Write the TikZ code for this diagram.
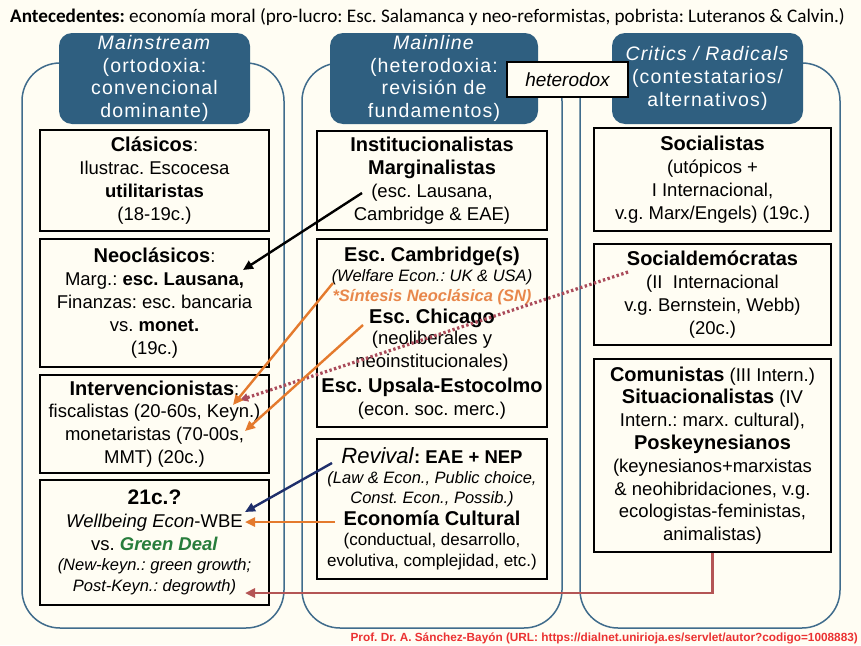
\documentclass[tikz,border=0pt]{standalone}
\usepackage{fontspec}
\setmainfont{Liberation Sans}
\newfontfamily\topfont{Carlito}
\newfontfamily\hdfont{Liberation Sans}[LetterSpace=6]
\usetikzlibrary{arrows.meta}
\frenchspacing

\definecolor{cream}{RGB}{255,253,243}
\definecolor{hdrblue}{RGB}{47,95,128}
\definecolor{colline}{RGB}{64,108,140}
\definecolor{orng}{RGB}{228,122,45}
\definecolor{navy}{RGB}{31,47,107}
\definecolor{elbow}{RGB}{180,85,85}
\definecolor{dotred}{RGB}{170,75,90}
\definecolor{deal}{RGB}{40,125,60}
\definecolor{synth}{RGB}{232,135,75}
\definecolor{urlred}{RGB}{235,50,50}

\newcommand\headfnt{\fontsize{20}{22.8}\selectfont}
\newcommand\smfnt{\fontsize{16.5}{19}\selectfont}

\begin{document}
\begin{tikzpicture}[x=1pt,y=-1pt,
	colframe/.style={draw=colline,line width=1.5pt,rounded corners=38pt},
	header/.style={fill=hdrblue,rounded corners=13pt,text=white,align=center,inner sep=0pt,
		minimum width=#1,minimum height=91pt,font=\hdfont\fontsize{19.5}{22.7}\selectfont},
	school/.style={draw,line width=1.3pt,fill=cream,align=center,inner sep=0pt,
		font=\fontsize{18.5}{22.8}\selectfont},
	link/.style={line width=2.4pt,-{Triangle[length=10pt,width=9pt]}}]

	\fill[cream] (0,0) rectangle (861,645);
	\useasboundingbox (0,0) rectangle (861,645);

	\node[anchor=base west,inner sep=0pt,font=\topfont\fontsize{19.2}{22}\selectfont] (ante) at (10,22)
		{\textbf{Antecedentes:} economía moral (pro-lucro: Esc. Salamanca y neo-reformistas, pobrista: Luteranos \& Calvin.)};

	\draw[colframe] (22,63) rectangle (284,628);
	\draw[colframe] (302,63) rectangle (562,628);
	\draw[colframe] (580,63) rectangle (840,628);

	\node[header=191pt] (mstream) at (154.5,78.5) {\textit{Mainstream}\\ (ortodoxia:\\ convencional\\ dominante)};
	\node[header=208pt] (mline) at (434,78.5) {\textit{Mainline}\\ (heterodoxia:\\ revisión de\\ fundamentos)};
	\node[header=191pt] (critic) at (707.5,78.5) {\textit{Critics / Radicals}\\ (contestatarios/\\ alternativos)};
	\node[draw,line width=1.3pt,fill=cream,minimum width=121pt,minimum height=35pt,inner sep=0pt,
		font=\itshape\fontsize{19}{22}\selectfont] (hetero) at (567.5,79.5) {heterodox};

	\node[school,minimum width=229pt,minimum height=101pt] (clas) at (154.5,180.5)
		{{\headfnt\textbf{Clásicos}}:\\ Ilustrac. Escocesa\\ \textbf{utilitaristas}\\ (18-19c.)};
	\node[school,minimum width=229pt,minimum height=128pt] (neo) at (154.5,303)
		{{\headfnt\textbf{Neoclásicos}}:\\ Marg.: \textbf{esc. Lausana,}\\ Finanzas: esc. bancaria\\ vs. \textbf{monet.}\\ (19c.)};
	\node[school,minimum width=229pt,minimum height=98pt] (inter) at (154.5,424)
		{{\headfnt\textbf{Intervencionistas}}:\\ fiscalistas (20-60s, Keyn.)\\ monetaristas (70-00s,\\ MMT) (20c.)};
	\node[school,minimum width=229pt,minimum height=125pt] (xxi) at (154.5,542.5)
		{{\fontsize{21}{22.8}\selectfont\textbf{21c.?}}\\ \textit{Wellbeing} \textit{Econ}-WBE\\
		vs. \textcolor{deal}{\textbf{\textit{Green Deal}}}\\[-2pt]
		{\smfnt\textit{(New-keyn.: green growth;}}\\[-2pt] {\smfnt\textit{Post-Keyn.: degrowth)}}};

	\node[school,minimum width=230pt,minimum height=99pt] (inst) at (432,180.5)
		{{\headfnt\textbf{Institucionalistas}}\\ {\headfnt\textbf{Marginalistas}}\\ (esc. Lausana,\\ Cambridge \& EAE)};
	\node[school,minimum width=230pt,minimum height=188pt] (camb) at (432,333)
		{{\headfnt\textbf{Esc. Cambridge(s)}}\\[-2pt] {\smfnt\textit{(Welfare Econ.: UK \& USA)}}\\[-3pt]
		{\smfnt\color{synth}\textbf{\textit{*Síntesis Neoclásica (SN)}}}\\[-1pt] {\headfnt\textbf{Esc. Chicago}}\\[-2pt]
		(neoliberales y\\ neoinstitucionales)\\[3pt] {\headfnt\textbf{Esc. Upsala-Estocolmo}}\\ (econ. soc. merc.)};
	\node[school,minimum width=230pt,minimum height=140pt] (rev) at (432,509)
		{{\fontsize{22}{22}\selectfont\textit{Revival}}\textbf{: EAE + NEP}\\[-3pt]
		{\smfnt\textit{(Law \& Econ., Public choice,}}\\[-3pt] {\smfnt\textit{Const. Econ., Possib.)}}\\[-1pt]
		{\headfnt\textbf{Economía Cultural}}\\[-2pt] {\fontsize{17}{20}\selectfont(conductual, desarrollo,}\\[-2pt]
		{\fontsize{17}{20}\selectfont evolutiva, complejidad, etc.)}};

	\node[school,minimum width=237pt,minimum height=103pt] (soc) at (712.5,179.5)
		{{\headfnt\textbf{Socialistas}}\\ (utópicos +\\ I Internacional,\\ v.g. Marx/Engels) (19c.)};
	\node[school,minimum width=237pt,minimum height=101pt] (sdem) at (712.5,294.5)
		{{\headfnt\textbf{Socialdemócratas}}\\ (II\ \ Internacional\\ v.g. Bernstein, Webb)\\ (20c.)};
	\node[school,minimum width=237pt,minimum height=193pt] (com) at (712.5,455.5)
		{{\headfnt\textbf{Comunistas}} (III Intern.)\\ {\headfnt\textbf{Situacionalistas}} (IV\\ Intern.: marx. cultural),\\
		{\headfnt\textbf{Poskeynesianos}}\\ (keynesianos+marxistas\\ \& neohibridaciones, v.g.\\ ecologistas-feministas,\\ animalistas)};

	\coordinate (lausA) at (362,193);
	\coordinate (lausB) at (243,270);
	\coordinate (wlfA) at (333,283);
	\coordinate (wlfB) at (233,405);
	\coordinate (chiA) at (363,325);
	\coordinate (chiB) at (245,431);
	\coordinate (sdemA) at (628,272);
	\coordinate (sdemB) at (240,400);
	\coordinate (revA) at (332,463);
	\coordinate (revB) at (245,512);
	\coordinate (culA) at (335,522);
	\coordinate (culB) at (245,522);
	\coordinate (degB) at (245,593);

	\draw[line width=3.2pt,dotred,dash pattern=on 2.4pt off 2.4pt,-{Triangle[length=8pt,width=8pt]}] (sdemA) -- (sdemB);
	\draw[link] (lausA) -- (lausB);
	\draw[link,orng] (wlfA) -- (wlfB);
	\draw[link,orng] (chiA) -- (chiB);
	\draw[link,navy] (revA) -- (revB);
	\draw[link,orng] (culA) -- (culB);
	\draw[link,elbow,line width=2.8pt] (com.south) |- (degB);

	\node[anchor=base east,inner sep=0pt,text=urlred,font=\bfseries\fontsize{11.8}{13}\selectfont] (url) at (858,641)
		{Prof. Dr. A. Sánchez-Bayón (URL: https://dialnet.unirioja.es/servlet/autor?codigo=1008883)};

\end{tikzpicture}
\end{document}
